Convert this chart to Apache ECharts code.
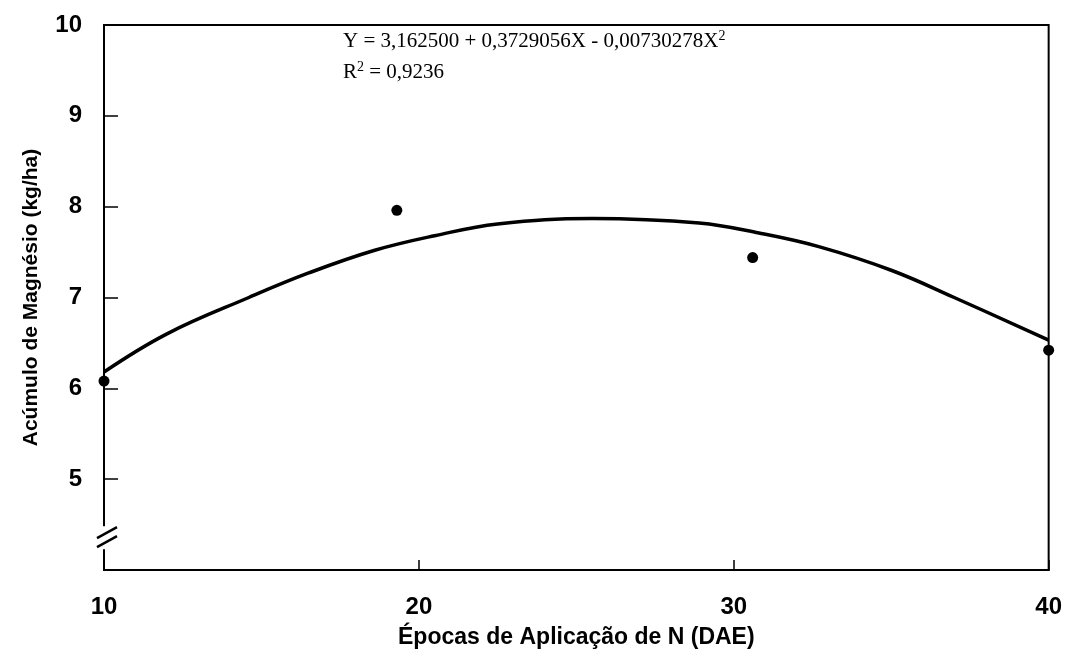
<!DOCTYPE html>
<html>
<head>
<meta charset="utf-8">
<script src="https://cdn.jsdelivr.net/npm/echarts@6/dist/echarts.min.js"></script>
<style>html,body{margin:0;padding:0;background:#fff}#c{width:1065px;height:668px}</style>
</head>
<body>
<div id="c"></div>
<script>
// Observed points (Época DAE, Mg kg/ha)
const obsX = [10, 19.3, 30.6, 40];
const obsY = [6.08, 7.96, 7.44, 6.42];
// Fitted curve
const fitX = [10, 12, 14.6, 16.5, 18.6, 20.5, 22.5, 25.5, 28.9, 30.8, 32.7, 35, 37, 40];
const fitY = [6.18, 6.6, 7.0, 7.27, 7.52, 7.68, 7.81, 7.87, 7.82, 7.71, 7.56, 7.3, 7.0, 6.53];
const xTicks = [10, 20, 30, 40];
const yTicks = [5, 6, 7, 8, 9, 10];
const xTitle = 'Épocas de Aplicação de N (DAE)';
const yTitle = 'Acúmulo de Magnésio (kg/ha)';

const chart = echarts.init(document.getElementById('c'), null, {renderer: 'canvas'});
const sans = 'Liberation Sans, Arial, sans-serif';
const labelFont = {fontFamily: sans, fontWeight: 'bold', fontSize: 24, color: '#000'};
const option = {
  animation: false,
  backgroundColor: '#fff',
  grid: {left: 104, right: 15, top: 25, bottom: 98, show: true, borderColor: '#000', borderWidth: 2, backgroundColor: 'transparent'},
  xAxis: {
    type: 'value', min: 10, max: 40, interval: 10,
    name: xTitle, nameLocation: 'middle', nameGap: 56,
    nameTextStyle: {fontFamily: sans, fontWeight: 'bold', fontSize: 23, color: '#000'},
    axisLine: {lineStyle: {color: '#000', width: 2}},
    axisTick: {inside: true, length: 10, lineStyle: {color: '#000', width: 1.5}},
    axisLabel: Object.assign({margin: 25, formatter: v => xTicks.includes(v) ? String(v) : ''}, labelFont),
    splitLine: {show: false}
  },
  yAxis: {
    type: 'value', min: 4, max: 10, interval: 1,
    name: yTitle, nameLocation: 'middle', nameGap: 62, nameRotate: 90,
    nameTextStyle: {fontFamily: sans, fontWeight: 'bold', fontSize: 21, color: '#000'},
    axisLine: {lineStyle: {color: '#000', width: 2}},
    axisTick: {inside: true, length: 14, lineStyle: {color: '#000', width: 1.5}},
    axisLabel: Object.assign({margin: 22, formatter: v => yTicks.includes(v) ? String(v) : ''}, labelFont),
    splitLine: {show: false}
  },
  series: [
    {
      type: 'line', data: fitX.map((x, i) => [x, fitY[i]]), smooth: 0.4, showSymbol: false,
      lineStyle: {color: '#000', width: 3.5}, z: 3
    },
    {
      type: 'scatter', data: obsX.map((x, i) => [x, obsY[i]]), symbol: 'circle', symbolSize: 11,
      itemStyle: {color: '#000', opacity: 1}, z: 4
    }
  ]
};
chart.setOption(option);

// Equation text and axis break marks
const serif = 'Liberation Serif, Times New Roman, serif';
const bp = chart.convertToPixel({gridIndex: 0}, [10, 4.35]);
chart.setOption({
  graphic: [
    {
      type: 'text', left: 343, top: 29, z: 10,
      style: {
        text: '{a|Y = 3,162500 + 0,3729056X - 0,00730278X}{s|2}',
        rich: {a: {fontFamily: serif, fontSize: 21, fill: '#000'}, s: {fontFamily: serif, fontSize: 14, fill: '#000', padding: [0, 0, 10, 0]}}
      }
    },
    {
      type: 'text', left: 343, top: 60, z: 10,
      style: {
        text: '{a|R}{s|2}{a| = 0,9236}',
        rich: {a: {fontFamily: serif, fontSize: 21, fill: '#000'}, s: {fontFamily: serif, fontSize: 14, fill: '#000', padding: [0, 0, 10, 0]}}
      }
    },
    {type: 'rect', shape: {x: bp[0] - 4, y: bp[1] - 12, width: 8, height: 23}, style: {fill: '#fff'}, z: 20},
    {type: 'line', shape: {x1: bp[0] - 7, y1: bp[1], x2: bp[0] + 13, y2: bp[1] - 11}, style: {stroke: '#000', lineWidth: 2.5}, z: 21},
    {type: 'line', shape: {x1: bp[0] - 7, y1: bp[1] + 9, x2: bp[0] + 13, y2: bp[1] - 2}, style: {stroke: '#000', lineWidth: 2.5}, z: 21}
  ]
});
</script>
</body>
</html>
